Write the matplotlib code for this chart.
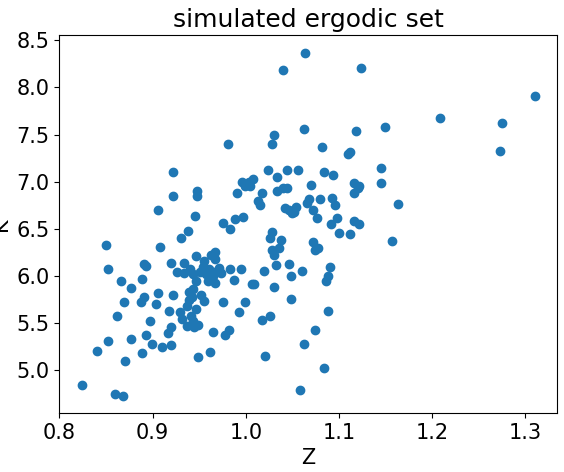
import matplotlib
matplotlib.use("Agg")
import matplotlib.pyplot as plt

points = [(0.824,4.84),(0.840,5.21),(0.850,6.33),(0.852,6.08),(0.852,5.31),(0.860,4.75),(0.862,5.58),(0.866,5.95),
(0.868,4.73),(0.869,5.72),(0.870,5.10),(0.877,5.87),(0.877,5.33),(0.887,5.72),(0.889,5.18),(0.889,5.97),(0.891,6.13),
(0.893,6.11),(0.891,5.78),(0.893,5.38),(0.897,5.52),(0.899,5.28),(0.904,5.70),(0.906,5.82),(0.906,6.70),(0.908,6.31),
(0.910,5.25),(0.916,5.40),(0.918,5.63),(0.920,6.14),(0.920,5.46),(0.922,7.10),(0.922,6.85),(0.922,5.80),(0.920,5.27),
(0.926,6.04),(0.929,5.62),(0.930,6.40),(0.932,5.54),(0.934,6.03),(0.934,6.14),(0.937,5.47),(0.937,5.68),(0.938,6.48),
(0.939,5.75),(0.939,5.83),(0.940,6.07),(0.941,5.58),(0.942,5.78),(0.943,5.52),(0.943,5.86),(0.943,6.02),(0.944,5.46),
(0.945,6.64),(0.946,6.21),(0.947,5.65),(0.947,5.95),(0.948,6.90),(0.948,6.85),(0.949,5.14),(0.949,5.48),(0.951,6.04),
(0.952,5.80),(0.953,6.05),(0.954,6.10),(0.955,5.74),(0.955,6.16),(0.957,6.02),(0.959,5.95),(0.961,6.08),(0.962,5.19),
(0.963,6.22),(0.965,6.00),(0.965,5.41),(0.967,6.25),(0.967,6.18),(0.967,5.93),(0.969,6.05),(0.971,6.09),(0.973,6.03),
(0.975,5.72),(0.976,6.56),(0.978,5.37),(0.981,7.40),(0.982,5.43),(0.983,6.50),(0.983,6.07),(0.987,5.96),(0.988,6.60),
(0.991,6.88),(0.993,5.62),(0.995,6.07),(0.996,7.00),(0.997,6.63),(0.999,5.73),(0.999,6.95),(1.003,7.00),(1.005,6.95),
(1.007,5.92),(1.008,7.03),(1.009,5.92),(1.013,6.80),(1.015,6.75),(1.017,5.53),(1.017,6.88),(1.019,6.05),(1.021,5.15),
(1.024,7.12),(1.026,5.58),(1.026,6.40),(1.028,6.47),(1.028,6.28),(1.028,7.40),(1.030,5.88),(1.030,7.50),(1.030,6.22),
(1.032,6.12),(1.034,6.90),(1.034,7.05),(1.036,6.30),(1.038,6.38),(1.040,6.93),(1.040,8.18),(1.042,6.72),(1.044,7.13),
(1.046,6.70),(1.044,6.93),(1.046,6.13),(1.048,5.76),(1.050,6.67),(1.049,6.00),(1.052,6.68),(1.054,6.73),(1.056,7.13),
(1.058,4.79),(1.060,6.05),(1.062,7.56),(1.063,5.28),(1.064,8.37),(1.066,6.78),(1.068,6.82),(1.070,6.97),(1.072,6.36),
(1.072,6.70),(1.074,6.28),(1.074,5.43),(1.076,6.62),(1.078,6.30),(1.080,6.82),(1.082,7.37),(1.084,7.10),(1.084,5.02),
(1.086,5.95),(1.088,5.63),(1.088,6.00),(1.090,6.10),(1.091,6.55),(1.092,6.83),(1.094,7.07),(1.096,6.75),(1.098,6.62),
(1.100,6.46),(1.110,7.29),(1.112,7.32),(1.112,6.45),(1.116,6.99),(1.116,6.58),(1.116,6.88),(1.118,7.54),(1.120,6.93),
(1.122,6.55),(1.124,8.21),(1.122,6.96),(1.145,7.15),(1.145,6.99),(1.149,7.58),(1.157,6.37),(1.163,6.76),(1.208,7.68),
(1.273,7.33),(1.275,7.62),(1.310,7.91)]
Z = [p[0] for p in points]
K = [p[1] for p in points]

plt.rcParams['font.size'] = 15
fig, ax = plt.subplots(figsize=(5.64, 4.72), dpi=100)
ax.scatter(Z, K, color='#1f77b4')
ax.set_xlabel('Z')
ax.set_ylabel('K')
ax.set_title('simulated ergodic set')
fig.subplots_adjust(left=0.105, right=0.988, top=0.925, bottom=0.125)
fig.savefig('out.png')
